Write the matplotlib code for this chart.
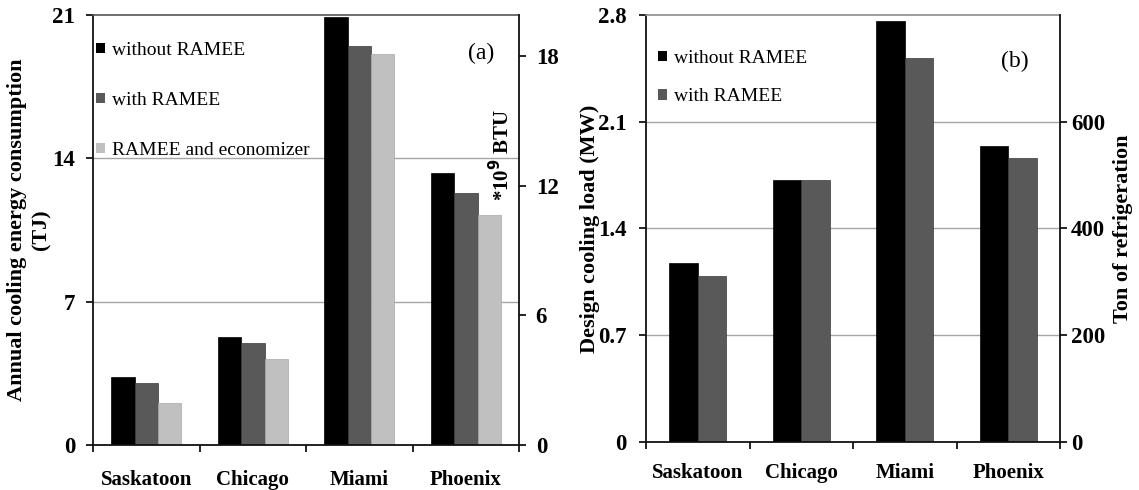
import numpy as np
import matplotlib
matplotlib.use("Agg")
import matplotlib.pyplot as plt
from matplotlib.patches import Patch

plt.rcParams['font.family'] = ['Liberation Serif', 'DejaVu Serif']

cities = ["Saskatoon", "Chicago", "Miami", "Phoenix"]

# (a) annual cooling energy, TJ
energy_without = [3.33, 5.29, 20.9, 13.27]
energy_with = [3.01, 4.96, 19.48, 12.29]
energy_econ = [2.03, 4.18, 19.08, 11.23]

# (b) design cooling load, MW
load_without = [1.17, 1.72, 2.76, 1.94]
load_with = [1.09, 1.72, 2.52, 1.86]

c_black = "#000000"
c_dark = "#595959"
c_light = "#c0c0c0"

fig = plt.figure(figsize=(11.39, 4.9), dpi=100)
ax1 = fig.add_axes([0.0817, 0.0918, 0.374, 0.8776])
ax3 = fig.add_axes([0.5672, 0.0986, 0.3635, 0.8708])

x = np.arange(len(cities))


def style_axes(ax, ymax, yticks, grid, xpad):
    ax.set_xlim(-0.5, 3.5)
    ax.set_ylim(0, ymax)
    ax.set_yticks(yticks)
    for g in grid:
        ax.axhline(g, color="#a6a6a6", lw=1.0, zorder=0)
    ax.set_xticks(x)
    ax.set_xticklabels(cities, fontsize=15, fontweight="bold")
    ax.set_xticks(np.arange(-0.5, 4.0, 1.0), minor=True)
    ax.tick_params(axis="x", which="major", length=0, pad=xpad)
    ax.tick_params(axis="x", which="minor", length=5, width=1.2, direction="out")
    ax.tick_params(axis="y", length=5, width=1.2, direction="out", pad=8, labelsize=16.5)
    for lab in ax.get_yticklabels():
        lab.set_fontweight("bold")
    for s in ["left", "bottom"]:
        ax.spines[s].set_linewidth(1.3)
        ax.spines[s].set_color("#111111")
    ax.spines["top"].set_color("#555555")
    ax.spines["top"].set_linewidth(1.2)
    ax.spines["right"].set_visible(False)


# ---- panel (a)
w = 0.22
ax1.bar(x - w, energy_without, w, color=c_black, edgecolor="#000000", lw=0.5, zorder=2)
ax1.bar(x, energy_with, w, color=c_dark, edgecolor="#3a3a3a", lw=0.5, zorder=2)
ax1.bar(x + w, energy_econ, w, color=c_light, edgecolor="#a8a8a8", lw=0.5, zorder=2)
style_axes(ax1, 21, [0, 7, 14, 21], [7, 14], 18)
ax1.set_ylabel("Annual cooling energy consumption\n(TJ)", fontsize=16,
               fontweight="bold", linespacing=1.3)
ax1.yaxis.set_label_coords(-0.097, 0.5)

ax2 = ax1.twinx()
ax2.set_ylim(0, 21 * 0.9478)
ax2.set_yticks([0, 6, 12, 18])
ax2.tick_params(axis="y", length=5, width=1.2, direction="out", pad=7, labelsize=16.5)
for lab in ax2.get_yticklabels():
    lab.set_fontweight("bold")
for s in ["left", "top", "bottom"]:
    ax2.spines[s].set_visible(False)
ax2.spines["right"].set_linewidth(1.3)
ax2.spines["right"].set_color("#111111")
ax2.text(0.958, 0.674, "*10$^\\mathbf{9}$ BTU", transform=ax2.transAxes, rotation=90,
         ha="center", va="center", fontsize=15, fontweight="bold")
ax1.text(0.91, 0.91, "(a)", transform=ax1.transAxes, ha="center", va="center",
         fontsize=17)

h1 = [Patch(facecolor=c_black), Patch(facecolor=c_dark), Patch(facecolor=c_light)]
ax1.legend(h1, ["without RAMEE", "with RAMEE", "RAMEE and economizer"],
           loc="upper left", bbox_to_anchor=(0.008, 0.938), frameon=False,
           fontsize=14, handlelength=0.45, handleheight=0.45, handletextpad=0.35,
           labelspacing=1.7, borderpad=0, borderaxespad=0)

# ---- panel (b)
wb = 0.277
ax3.bar(x - wb / 2, load_without, wb, color=c_black, edgecolor="#000000", lw=0.5, zorder=2)
ax3.bar(x + wb / 2, load_with, wb, color=c_dark, edgecolor="#3a3a3a", lw=0.5, zorder=2)
style_axes(ax3, 2.8, [0, 0.7, 1.4, 2.1, 2.8], [0.7, 1.4, 2.1], 15)
ax3.spines["top"].set_color("#8c8c8c")
ax3.set_yticklabels(["0", "0.7", "1.4", "2.1", "2.8"], fontweight="bold")
ax3.tick_params(axis="y", pad=9)
ax3.set_ylabel("Design cooling load (MW)", fontsize=16, fontweight="bold")
ax3.yaxis.set_label_coords(-0.111, 0.5)

ax4 = ax3.twinx()
ax4.set_ylim(0, 2.8 * 600 / 2.1)
ax4.set_yticks([0, 200, 400, 600])
ax4.tick_params(axis="y", length=5, width=1.2, direction="out", pad=3, labelsize=16.5)
for lab in ax4.get_yticklabels():
    lab.set_fontweight("bold")
for s in ["left", "top", "bottom"]:
    ax4.spines[s].set_visible(False)
ax4.spines["right"].set_linewidth(1.3)
ax4.spines["right"].set_color("#111111")
ax4.set_ylabel("Ton of refrigeration", fontsize=16, fontweight="bold")
ax4.yaxis.set_label_coords(1.128, 0.5)
ax3.text(0.89, 0.89, "(b)", transform=ax3.transAxes, ha="center", va="center",
         fontsize=17)

h2 = [Patch(facecolor=c_black), Patch(facecolor=c_dark)]
ax3.legend(h2, ["without RAMEE", "with RAMEE"],
           loc="upper left", bbox_to_anchor=(0.03, 0.918), frameon=False,
           fontsize=14, handlelength=0.45, handleheight=0.45, handletextpad=0.35,
           labelspacing=1.1, borderpad=0, borderaxespad=0)

fig.savefig("out.png", dpi=100)
